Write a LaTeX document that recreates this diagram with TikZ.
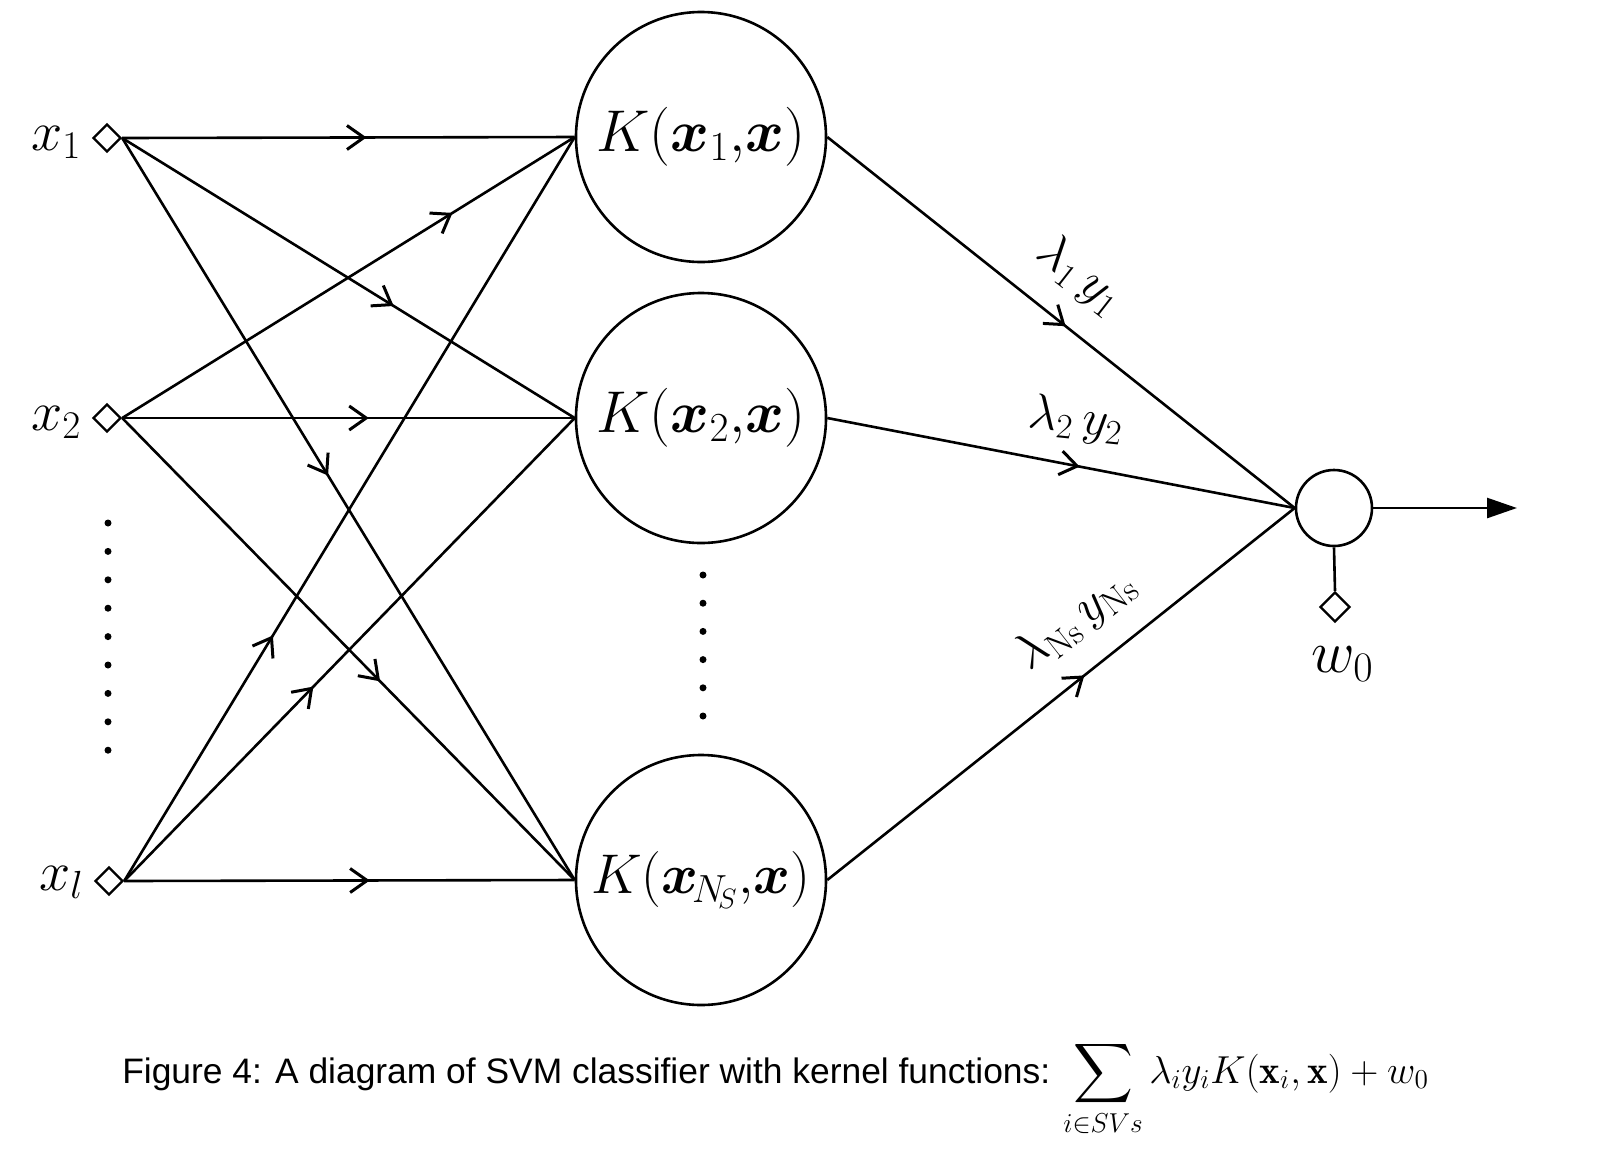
\RequirePackage{fix-cm}
\documentclass[tikz,border=0pt]{standalone}
\usepackage{amsmath}
\usepackage{bm}
\usepackage{fontspec}
\newfontfamily\capfont{Liberation Sans}
\usetikzlibrary{arrows.meta,decorations.markings,shapes.geometric}
\newcommand\biglbl{\fontsize{28}{32}\selectfont}
\newcommand\kerlbl{\fontsize{29.5}{34}\selectfont}
\newcommand\wlbl{\fontsize{25}{29}\selectfont}
\begin{document}
\begin{tikzpicture}[x=0.5pt,y=-0.5pt, line width=1.3pt,
  inp/.style={draw, diamond, aspect=1, inner sep=0pt, minimum size=14pt, line width=1.2pt},
  kern/.style={draw, circle, inner sep=0pt, minimum size=125pt},
  outn/.style={draw, circle, inner sep=0pt, minimum size=38pt},
  conn/.style={decoration={markings, mark=at position #1 with {\arrow{Straight Barb[length=8.5pt,width=12pt,line width=1.5pt]}}}, postaction={decorate}},
  dotn/.style={circle, fill, inner sep=0pt, minimum size=3.5pt},
  lab/.style={inner sep=0pt}
]
\fill[white] (0,0) rectangle (1614,1148);
\useasboundingbox (0,0) rectangle (1614,1148);

% inputs
\node[inp] (x1) at (107,138) {};
\node[inp] (x2) at (107,418) {};
\node[inp] (xl) at (109,881) {};
\node[lab, anchor=base west] (lx1) at (30,150) {\biglbl$x_1$};
\node[lab, anchor=base west] (lx2) at (30,430) {\biglbl$x_2$};
\node[lab, anchor=base west] (lxl) at (38,890) {\biglbl$x_l$};

% kernels
\node[kern] (k1) at (701,137) {\kerlbl$K(\bm{x}_1{,}\bm{x})$};
\node[kern] (k2) at (701,418) {\kerlbl$K(\bm{x}_2{,}\bm{x})$};
\node[kern] (kn) at (701,880) {\fontsize{28}{32}\selectfont$K(\bm{x}_{\!N_{\!S}}{,}\bm{x})$};

% output
\node[outn] (out) at (1334,508) {};
\node[inp, minimum size=15pt] (w0d) at (1335,607) {};
\node[lab, anchor=base west] (lw0) at (1310,672) {\fontsize{30}{34}\selectfont$w_0$};
\coordinate (oend) at (1517,508);

% dots
\foreach \k in {0,...,8} \node[dotn] (ld\k) at (108,{523+28.4*\k}) {};
\foreach \k in {0,...,5} \node[dotn] (md\k) at (703,{575+28.2*\k}) {};

% input connections
\draw[conn=0.54] (x1.east) -- (k1.west);
\draw[conn=0.60] (x1.east) -- (k2.west);
\draw[conn=0.455] (x1.east) -- (kn.west);
\draw[conn=0.73] (x2.east) -- (k1.west);
\draw[conn=0.545] (x2.east) -- (k2.west);
\draw[conn=0.57] (x2.east) -- (kn.west);
\draw[conn=0.33] (xl.east) -- (k1.west);
\draw[conn=0.42] (xl.east) -- (k2.west);
\draw[conn=0.545] (xl.east) -- (kn.west);

% kernel to output
\draw[conn=0.51] (k1.east) -- (out.west);
\draw[conn=0.54] (k2.east) -- (out.west);
\draw[conn=0.55] (kn.east) -- (out.west);
\draw (out.south) -- (w0d.north);
\draw[-{Triangle[length=15pt,width=10pt]}] (out.east) -- (oend);

% weight labels
\node[lab, rotate=-38] (l1) at (1080,276) {\wlbl$\lambda_1\,y_1$};
\node[lab, rotate=-6] (l2) at (1076,420) {\wlbl$\lambda_2\,y_2$};
\node[lab, rotate=38] (ln) at (1076,620) {\wlbl$\lambda_{\mathrm{Ns}}\,y_{\mathrm{Ns}}$};

% caption
\node[lab, anchor=base west] (cap) at (121,1083) {\capfont\fontsize{17.7}{21}\selectfont Figure 4: A diagram of SVM classifier with kernel functions: {\fontsize{19.5}{22}\selectfont$\displaystyle\sum_{i\in SVs}\lambda_i y_i K(\mathbf{x}_i,\mathbf{x})+w_0$}};
\end{tikzpicture}
\end{document}
